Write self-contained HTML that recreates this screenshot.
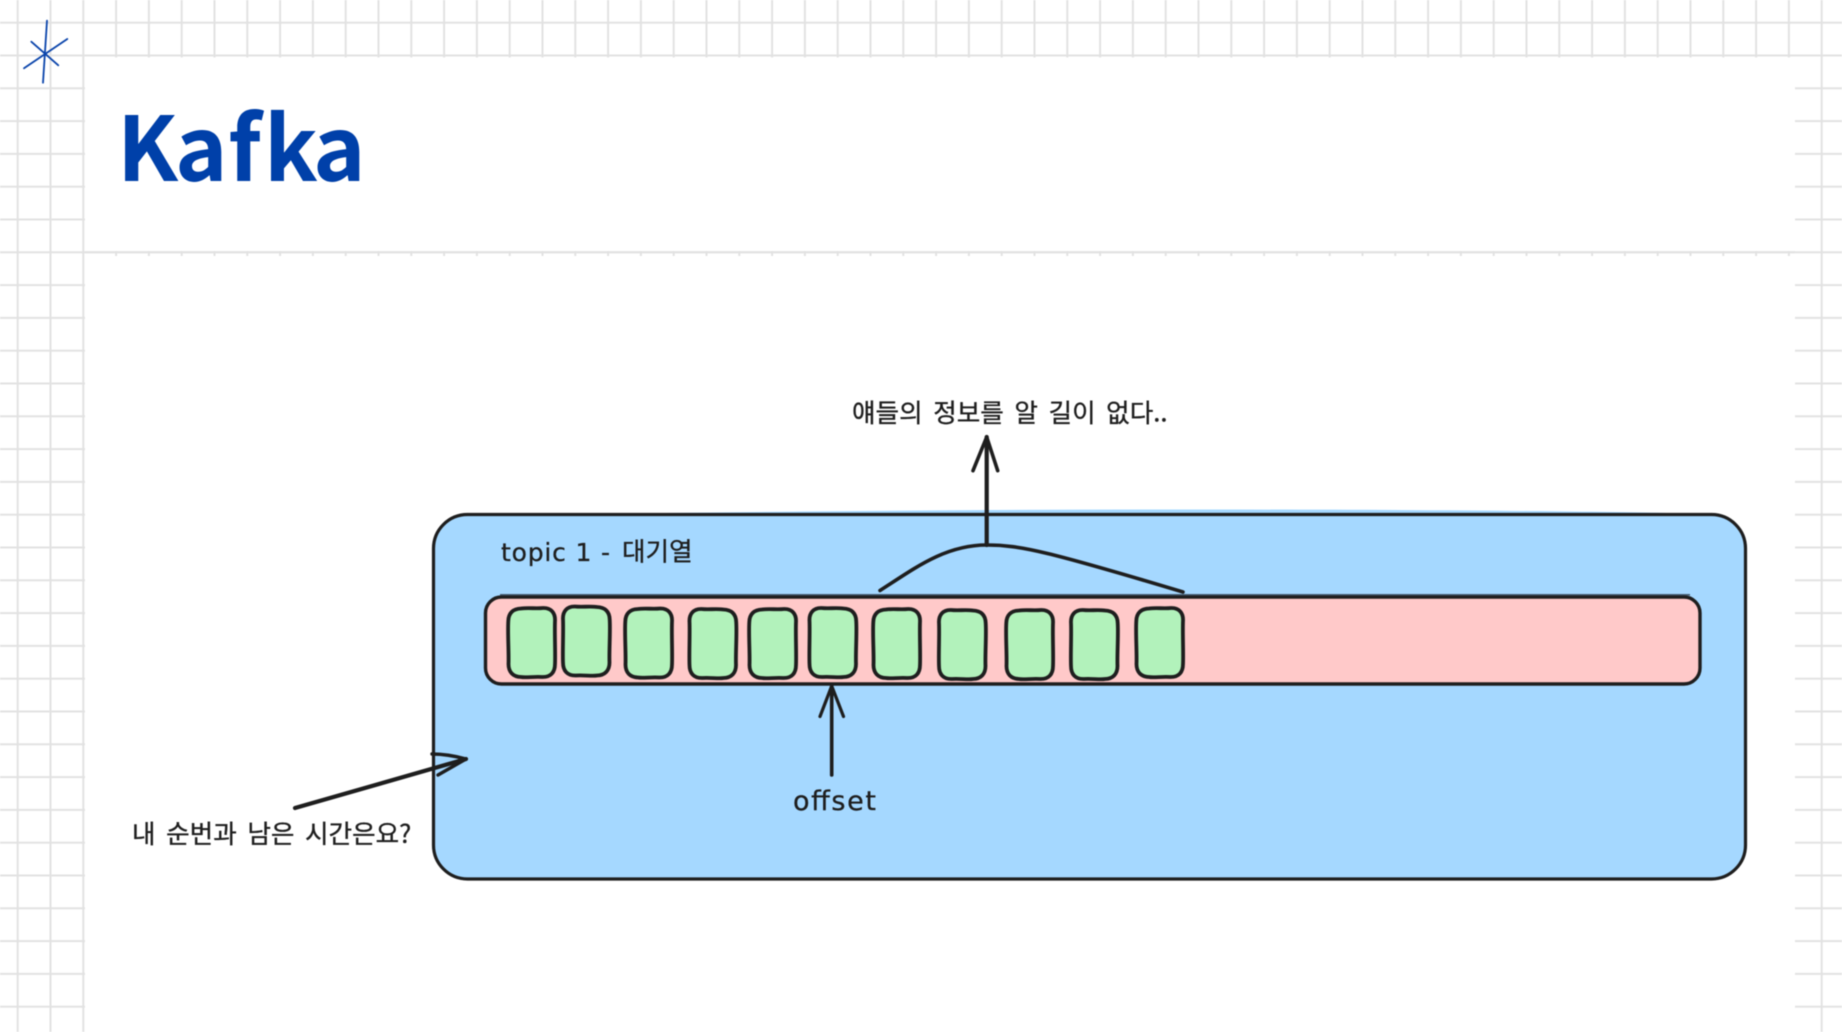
<!DOCTYPE html>
<html lang="ko">
<head>
<meta charset="utf-8">
<title>Kafka</title>
<style>
html,body{margin:0;padding:0;background:#fff;width:1842px;height:1032px;overflow:hidden}
svg{display:block;filter:blur(.45px)}
text{font-family:"Noto Sans CJK KR",sans-serif;fill:#1e1e1e}
.ko{font-size:25.6px;word-spacing:3.4px;stroke:#1e1e1e;stroke-width:.35px}
.hand{font-family:"DejaVu Sans",sans-serif;font-size:27px;stroke:#1e1e1e;stroke-width:.3px}
</style>
</head>
<body>
<svg width="1842" height="1032" viewBox="0 0 1842 1032" xmlns="http://www.w3.org/2000/svg">
<defs>
<pattern id="grid" patternUnits="userSpaceOnUse" x="16.7" y="21.7" width="32.8" height="32.8">
<rect x="0" y="0" width="2" height="32.8" fill="#e2e2e2"/>
<rect x="0" y="0" width="32.8" height="2" fill="#e2e2e2"/>
</pattern>
<path id="b" d="M13 .5C20-.5 28 .8 35 0C43-.3 47.5 5 47 13C46.5 25 47.5 45 47 56C47 64 43 69.3 34 69C26 68.3 18 70 13 69C5 68.7 .5 64 .5 56C1 45-.5 25 .3 13C.5 5 5 .8 13 .5Z"/>
</defs>
<rect width="1842" height="1032" fill="#fff"/>
<rect width="1842" height="1032" fill="url(#grid)"/>
<!-- white content areas -->
<rect x="85" y="57.5" width="1710" height="193.5" fill="#fff"/>
<rect x="85" y="256" width="1710" height="776" fill="#fff"/>
<rect x="85" y="251.2" width="1710" height="2" fill="#e2e2e2"/>

<!-- asterisk -->
<g stroke="#0a44ab" stroke-width="1.8" stroke-linecap="round">
<line x1="47" y1="20.7" x2="43" y2="82.7"/>
<line x1="67.3" y1="39" x2="24" y2="68.3"/>
<line x1="31.3" y1="41.7" x2="58.3" y2="65.3"/>
</g>

<text x="117 175 228 264 313" y="181" font-size="89" font-weight="700" style="fill:#0040a9;font-variant-ligatures:none;font-kerning:none">Kafka</text>

<!-- topic box -->
<path d="M600 514 C800 511 1000 509.5 1200 509.5 C1400 509.5 1600 511 1710 514 Z" fill="#a5d8ff"/>
<rect x="433.5" y="514.5" width="1312" height="364.5" rx="34" ry="34" fill="#a5d8ff" stroke="#1e1e1e" stroke-width="3.2"/>

<!-- queue bar -->
<rect x="485.5" y="597" width="1214.5" height="87" rx="16" ry="16" fill="#ffc9c9" stroke="#1e1e1e" stroke-width="3.4"/>
<path d="M500 594.8 H1690" stroke="#2f3f4d" stroke-width="1.6" fill="none" opacity=".8"/>

<!-- messages -->
<g fill="#b2f2bb" stroke="#1e1e1e" stroke-width="3.8" stroke-linejoin="round">
<use href="#b" transform="translate(508 608)"/>
<use href="#b" transform="translate(610 606.5) scale(-1 1)"/>
<use href="#b" transform="translate(625 608.5)"/>
<use href="#b" transform="translate(736.5 609) scale(-1 1)"/>
<use href="#b" transform="translate(749 609)"/>
<use href="#b" transform="translate(856.5 608) scale(-1 1)"/>
<use href="#b" transform="translate(873 609)"/>
<use href="#b" transform="translate(986 610) scale(-1 1)"/>
<use href="#b" transform="translate(1006 610)"/>
<use href="#b" transform="translate(1118 610) scale(-1 1)"/>
<use href="#b" transform="translate(1136 608)"/>
</g>

<!-- connectors -->
<g fill="none" stroke="#1e1e1e" stroke-linecap="round" stroke-linejoin="round">
<path d="M880 590.5 C915 568 945 545 986.7 545 C1020 545 1050 552 1183 592" stroke-width="3.6"/>
<path d="M986.7 545 V437" stroke-width="4.2"/>
<path d="M973 470.7 L986.7 437 L997.7 470.7" stroke-width="3.6"/>
<path d="M831.7 775 V686" stroke-width="3.6"/>
<path d="M820 716.5 L831.7 686 L843.5 716.5" stroke-width="3.2"/>
<path d="M295 808 L466 759" stroke-width="4.2"/>
<path d="M432 754 C445 754 455 756 466 759 L438 775" stroke-width="3.4"/>
</g>

<!-- labels -->
<text class="ko" x="852" y="422">얘들의 정보를 알 길이 없다..</text>
<text class="hand" x="501" y="561" textLength="109" style="font-size:25px">topic 1 -</text>
<text class="ko" x="622" y="560.5" style="word-spacing:0">대기열</text>
<text class="hand" x="793" y="810" textLength="83">offset</text>
<text class="ko" x="132" y="843">내 순번과 남은 시간은요?</text>
</svg>
</body>
</html>
